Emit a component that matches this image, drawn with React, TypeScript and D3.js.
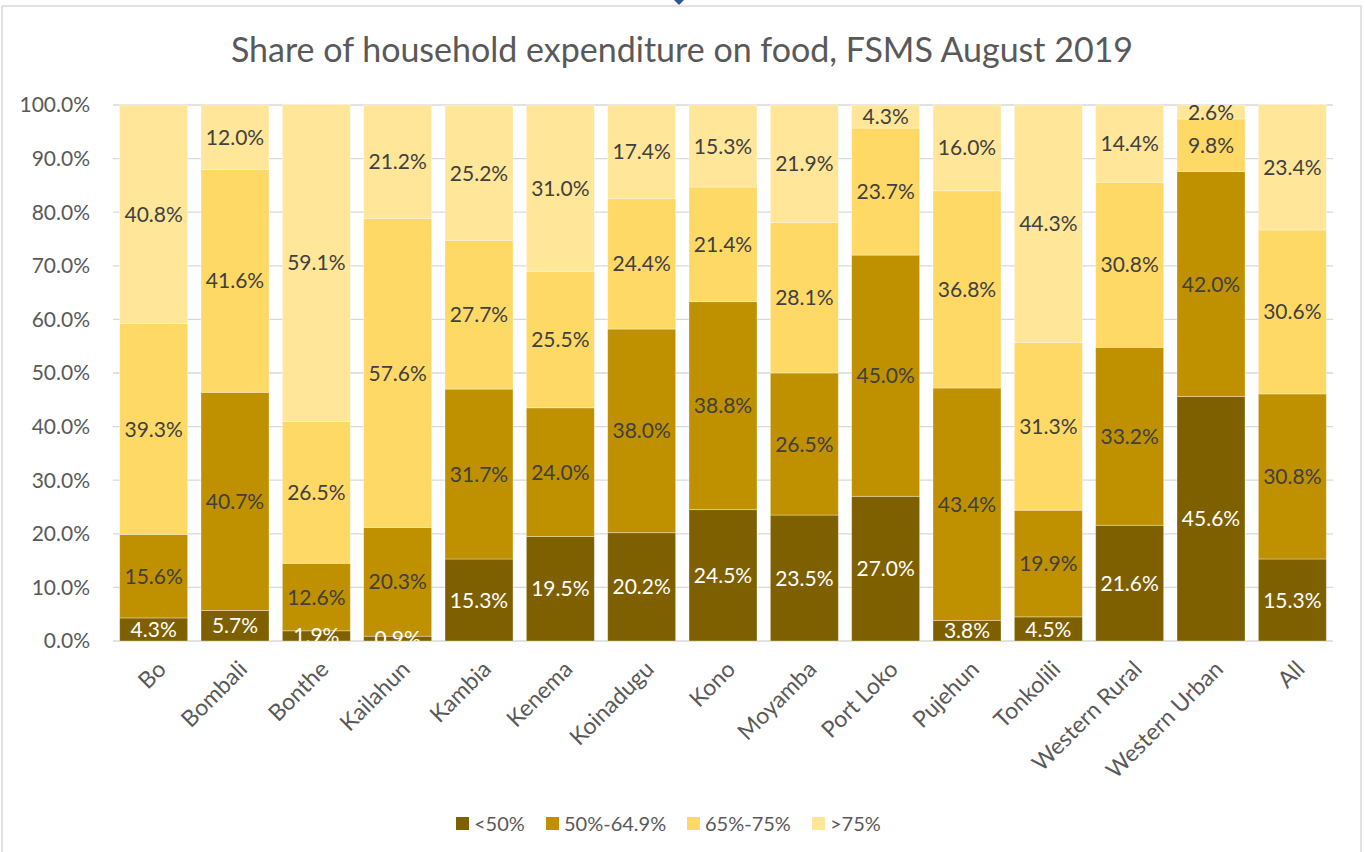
import * as d3 from "d3";
import { useEffect, useRef } from "react";

const categories = [
  "Bo", "Bombali", "Bonthe", "Kailahun", "Kambia", "Kenema", "Koinadugu", "Kono",
  "Moyamba", "Port Loko", "Pujehun", "Tonkolili", "Western Rural", "Western Urban", "All",
];
const seriesNames = ["<50%", "50%-64.9%", "65%-75%", ">75%"];
const below50 = [4.3, 5.7, 1.9, 0.9, 15.3, 19.5, 20.2, 24.5, 23.5, 27.0, 3.8, 4.5, 21.6, 45.6, 15.3];
const from50to65 = [15.6, 40.7, 12.6, 20.3, 31.7, 24.0, 38.0, 38.8, 26.5, 45.0, 43.4, 19.9, 33.2, 42.0, 30.8];
const from65to75 = [39.3, 41.6, 26.5, 57.6, 27.7, 25.5, 24.4, 21.4, 28.1, 23.7, 36.8, 31.3, 30.8, 9.8, 30.6];
const above75 = [40.8, 12.0, 59.1, 21.2, 25.2, 31.0, 17.4, 15.3, 21.9, 4.3, 16.0, 44.3, 14.4, 2.6, 23.4];
const yTicks = [0, 10, 20, 30, 40, 50, 60, 70, 80, 90, 100];

const colors = ["#7F6000", "#BF9000", "#FFD966", "#FFE699"];
const labelColors = ["#ffffff", "#404040", "#404040", "#404040"];

export default function App() {
  const width = 1365;
  const height = 852;
  const marginTop = 105;
  const marginRight = 32;
  const marginBottom = 211;
  const marginLeft = 113;
  const font = "Lato, 'Noto Sans', sans-serif";

  const svgRef = useRef<SVGSVGElement>(null);

  useEffect(() => {
    const svgEl = d3.select(svgRef.current);
    svgEl.selectAll("*").remove();

    // chart frame
    svgEl.append("rect")
      .attr("x", 2).attr("y", 6)
      .attr("width", 1359).attr("height", height + 10)
      .attr("fill", "#fff")
      .attr("stroke", "#d9d9d9")
      .attr("stroke-width", 1.5);

    // selection handle at the top
    svgEl.append("path")
      .attr("d", "M674,0 L684,0 L679,5 Z")
      .attr("fill", "#2F5597");

    svgEl.append("text")
      .attr("x", 682).attr("y", 62)
      .attr("text-anchor", "middle")
      .attr("font-family", font)
      .attr("font-size", 34)
      .attr("fill", "#595959")
      .text("Share of household expenditure on food, FSMS August 2019");

    const xScale = d3.scaleBand<string>(categories, [marginLeft, width - marginRight])
      .paddingInner(0.164)
      .paddingOuter(0.082);
    const yScale = d3.scaleLinear([0, 100], [height - marginBottom, marginTop]);

    // gridlines
    svgEl.append("g")
      .selectAll("line")
      .data(yTicks)
      .join("line")
      .attr("x1", marginLeft).attr("x2", width - marginRight)
      .attr("y1", d => yScale(d)).attr("y2", d => yScale(d))
      .attr("stroke", "#d9d9d9")
      .attr("stroke-width", 1.3);

    // y labels
    svgEl.append("g")
      .selectAll("text")
      .data(yTicks)
      .join("text")
      .attr("x", 90)
      .attr("y", d => yScale(d))
      .attr("dy", "0.35em")
      .attr("text-anchor", "end")
      .attr("font-family", font)
      .attr("font-size", 21)
      .attr("fill", "#595959")
      .text(d => d3.format(".1f")(d) + "%");

    const table = categories.map((c, i) => ({
      name: c,
      s0: below50[i], s1: from50to65[i], s2: from65to75[i], s3: above75[i],
    }));
    const stack = d3.stack<any>().keys(["s0", "s1", "s2", "s3"]);
    const series = stack(table);

    svgEl.append("defs").append("clipPath")
      .attr("id", "plotclip")
      .append("rect")
      .attr("x", marginLeft).attr("y", marginTop - 10)
      .attr("width", width - marginLeft - marginRight)
      .attr("height", height - marginBottom - marginTop + 10);

    const bars = svgEl.append("g");
    series.forEach((s, k) => {
      bars.append("g")
        .selectAll("rect")
        .data(s)
        .join("rect")
        .attr("x", d => xScale(d.data.name)!)
        .attr("width", xScale.bandwidth())
        .attr("y", d => yScale(d[1]))
        .attr("height", d => yScale(d[0]) - yScale(d[1]))
        .attr("fill", colors[k])
        .attr("stroke", "rgba(255,255,255,0.45)")
        .attr("stroke-width", 0.75);
    });

    const labels = svgEl.append("g").attr("clip-path", "url(#plotclip)");
    series.forEach((s, k) => {
      labels.append("g")
        .selectAll("text")
        .data(s)
        .join("text")
        .attr("x", d => xScale(d.data.name)! + xScale.bandwidth() / 2)
        .attr("y", d => yScale((d[0] + d[1]) / 2))
        .attr("dy", "0.36em")
        .attr("text-anchor", "middle")
        .attr("font-family", font)
        .attr("font-size", 21)
        .attr("fill", labelColors[k])
        .text(d => d3.format(".1f")(d[1] - d[0]) + "%");
    });

    // x labels
    svgEl.append("g")
      .selectAll("text")
      .data(categories)
      .join("text")
      .attr("transform", d =>
        `translate(${xScale(d)! + xScale.bandwidth() / 2 + 8},${height - marginBottom + 24}) rotate(-45)`)
      .attr("text-anchor", "end")
      .attr("dy", "0.35em")
      .attr("font-family", font)
      .attr("font-size", 23)
      .attr("fill", "#595959")
      .text(d => d);

    // legend
    const legendX = [456, 546, 687, 812];
    const legend = svgEl.append("g");
    seriesNames.forEach((n, k) => {
      legend.append("rect")
        .attr("x", legendX[k]).attr("y", 817)
        .attr("width", 13).attr("height", 13)
        .attr("fill", colors[k]);
      legend.append("text")
        .attr("x", legendX[k] + 18).attr("y", 831)
        .attr("font-family", font)
        .attr("font-size", 20)
        .attr("fill", "#595959")
        .text(n);
    });
  }, []);

  return (
    <svg
      ref={svgRef}
      width={width}
      height={height}
      style={{ position: "absolute", left: 0, top: 0 }}
      xmlns="http://www.w3.org/2000/svg"
    >
    </svg>
  );
}
